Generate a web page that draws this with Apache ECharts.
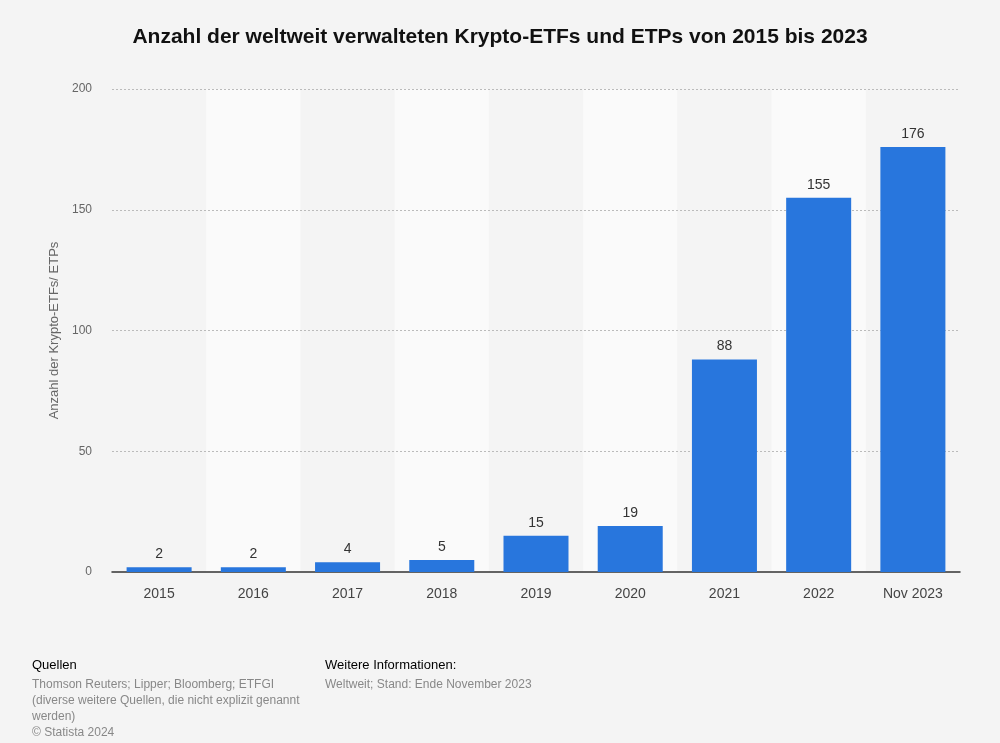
<!DOCTYPE html>
<html><head><meta charset="utf-8">
<script src="https://cdn.jsdelivr.net/npm/echarts@6/dist/echarts.min.js"></script>
<style>html,body{margin:0;padding:0;background:#f4f4f4;}#c{width:1000px;height:743px;}</style>
</head><body><div id="c"></div>
<script>
const categories = ['2015','2016','2017','2018','2019','2020','2021','2022','Nov 2023'];
const values = [2,2,4,5,15,19,88,155,176];
const yTicks = [0,50,100,150,200];
const FONT = '"Liberation Sans", Arial, sans-serif';
const chart = echarts.init(document.getElementById('c'));
chart.setOption({
  backgroundColor: '#f4f4f4',
  textStyle: {fontFamily: FONT},
  title: {text: 'Anzahl der weltweit verwalteten Krypto-ETFs und ETPs von 2015 bis 2023', left: 'center', top: 22,
    textStyle: {fontSize: 21, fontWeight: 'bold', color: '#111', fontFamily: FONT}},
  grid: {left: 112, right: 40, top: 89, bottom: 171},
  xAxis: {type: 'category', data: categories, z: 0,
    axisLine: {lineStyle: {color: '#333', width: 1.5}},
    axisTick: {show: false},
    axisLabel: {fontSize: 14, color: '#444', margin: 15, fontFamily: FONT},
    splitArea: {show: true, areaStyle: {color: ['rgba(0,0,0,0)', '#fafafa']}}},
  yAxis: {type: 'value', min: yTicks[0], max: yTicks[yTicks.length-1], interval: 50, z: 3,
    name: 'Anzahl der Krypto-ETFs/ ETPs', nameLocation: 'middle', nameGap: 51,
    nameTextStyle: {fontSize: 13, color: '#666', fontFamily: FONT},
    axisLine: {show: false}, axisTick: {show: false},
    axisLabel: {fontSize: 12, color: '#666', margin: 20, fontFamily: FONT},
    splitLine: {showMinLine: false, lineStyle: {color: '#bbb', type: [2,2], width: 1}}},
  series: [{type: 'bar', data: values, barWidth: '69%', z: 5,
    itemStyle: {color: '#2876dd'},
    label: {show: true, position: 'top', distance: 6, fontSize: 14, color: '#333', fontFamily: FONT}}],
  graphic: [
    {type: 'text', left: 32, top: 659, style: {text: 'Quellen', fontSize: 13, fill: '#000', fontFamily: FONT}},
    {type: 'text', left: 32, top: 677, style: {text: 'Thomson Reuters; Lipper; Bloomberg; ETFGI\n(diverse weitere Quellen, die nicht explizit genannt\nwerden)\n© Statista 2024', fontSize: 12, lineHeight: 16, fill: '#888', fontFamily: FONT}},
    {type: 'text', left: 325, top: 659, style: {text: 'Weitere Informationen:', fontSize: 13, fill: '#000', fontFamily: FONT}},
    {type: 'text', left: 325, top: 677, style: {text: 'Weltweit; Stand: Ende November 2023', fontSize: 12, lineHeight: 16, fill: '#888', fontFamily: FONT}}
  ]
});
</script></body></html>
